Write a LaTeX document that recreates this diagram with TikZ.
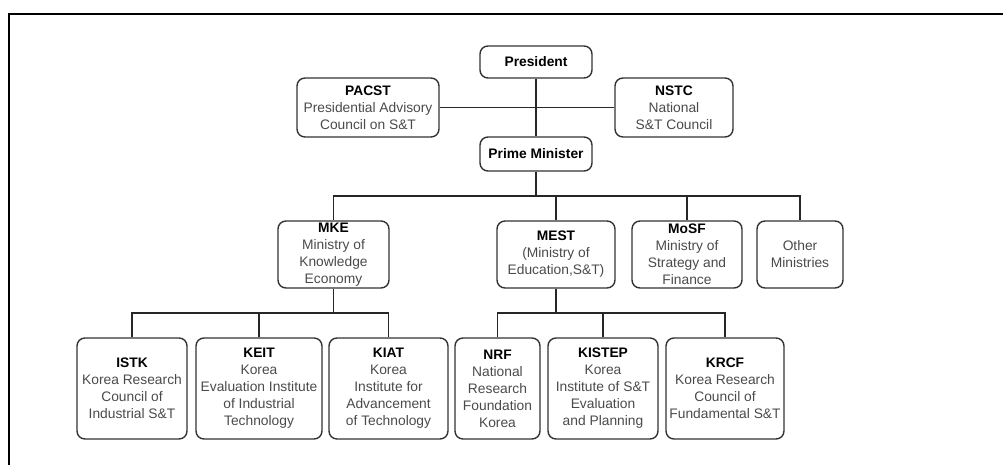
\documentclass[tikz,border=0pt]{standalone}
\usepackage{fontspec}
\setmainfont{Liberation Sans}
\definecolor{bodytext}{HTML}{4A4A4A}
\definecolor{boxline}{HTML}{333333}
\newcommand{\boxtitle}[1]{{\bfseries\color{black}#1}}
\begin{document}
\begin{tikzpicture}[x=1pt,y=-1pt,
  orgbox/.style={draw=boxline, line width=1.4pt, rounded corners=8pt, align=center,
    inner sep=0pt, text=bodytext, font=\fontsize{13.8}{17}\selectfont},
  link/.style={draw=black!85, line width=1.2pt}]
\useasboundingbox (0,0) rectangle (1003,465);
\draw[line width=2pt] (8.5,466) -- (8.5,14) -- (1004,14);

% top
\node[orgbox, minimum width=112pt, minimum height=32pt] (pres) at (536,62) {\boxtitle{President}};
\node[orgbox, minimum width=142pt, minimum height=59pt] (pacst) at (368,107.5) {\boxtitle{PACST}\\Presidential Advisory\\Council on S\&T};
\node[orgbox, minimum width=118pt, minimum height=59pt] (nstc) at (674,107.5) {\boxtitle{NSTC}\\National\\S\&T Council};
\node[orgbox, minimum width=112pt, minimum height=34pt] (pm) at (536,154) {\boxtitle{Prime Minister}};

% ministries
\node[orgbox, minimum width=111pt, minimum height=67pt] (mke) at (333.5,254.5) {\boxtitle{MKE}\\Ministry of\\Knowledge\\Economy};
\node[orgbox, minimum width=118pt, minimum height=67pt] (mest) at (556,254.5) {\boxtitle{MEST}\\(Ministry of\\Education,S\&T)};
\node[orgbox, minimum width=110pt, minimum height=67pt] (mosf) at (687,254.5) {\boxtitle{MoSF}\\Ministry of\\Strategy and\\Finance};
\node[orgbox, minimum width=86pt, minimum height=67pt] (other) at (800,254.5) {Other\\Ministries};

% agencies
\node[orgbox, minimum width=110pt, minimum height=101pt] (istk) at (132,388.5) {\boxtitle{ISTK}\\Korea Research\\Council of\\Industrial S\&T};
\node[orgbox, minimum width=126pt, minimum height=101pt] (keit) at (259,388.5) {\boxtitle{KEIT}\\Korea\\Evaluation Institute\\of Industrial\\Technology};
\node[orgbox, minimum width=119pt, minimum height=101pt] (kiat) at (388.5,388.5) {\boxtitle{KIAT}\\Korea\\Institute for\\Advancement\\of Technology};
\node[orgbox, minimum width=85pt, minimum height=101pt] (nrf) at (497.5,388.5) {\boxtitle{NRF}\\National\\Research\\Foundation\\Korea};
\node[orgbox, minimum width=110pt, minimum height=101pt] (kistep) at (603,388.5) {\boxtitle{KISTEP}\\Korea\\Institute of S\&T\\Evaluation\\and Planning};
\node[orgbox, minimum width=118pt, minimum height=101pt] (krcf) at (725,388.5) {\boxtitle{KRCF}\\Korea Research\\Council of\\Fundamental S\&T};

% connectors
\coordinate (b1) at (536,196);
\coordinate (b2) at (333.5,313);
\coordinate (b3) at (556,313);
\draw[link] (pres.south) -- (pm.north);
\draw[link] (pacst.east) -- (nstc.west);
\draw[link] (pm.south) -- (b1);
\draw[link] (mke.north) |- (b1) -| (other.north);
\draw[link] (mest.north) -- (mest.north |- b1);
\draw[link] (mosf.north) -- (mosf.north |- b1);
\draw[link] (mke.south) -- (b2);
\draw[link] (istk.north) |- (b2) -| (kiat.north);
\draw[link] (keit.north) -- (keit.north |- b2);
\draw[link] (mest.south) -- (b3);
\draw[link] (nrf.north) |- (b3) -| (krcf.north);
\draw[link] (kistep.north) -- (kistep.north |- b3);
\end{tikzpicture}
\end{document}
